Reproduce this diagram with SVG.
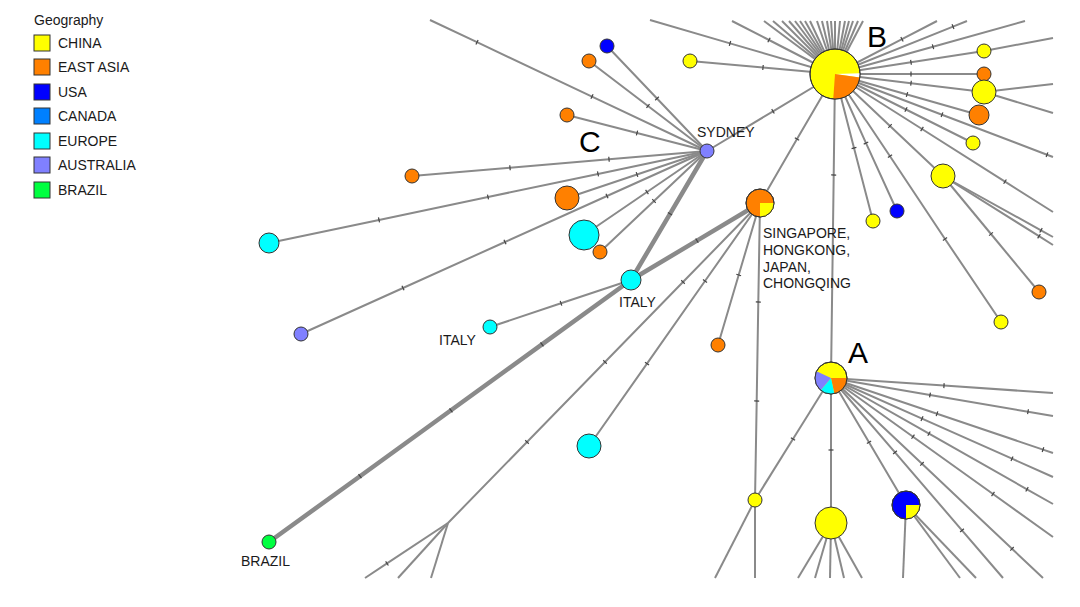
<svg xmlns="http://www.w3.org/2000/svg" width="1080" height="607" viewBox="0 0 1080 607">
<defs>
<marker id="tk" viewBox="-3 -3 6 6" markerWidth="6" markerHeight="6" markerUnits="userSpaceOnUse" orient="auto" overflow="visible"><path d="M0,-2.5V2.5" stroke="#444" stroke-width="1.2"/></marker>
<style>
.e{fill:none;stroke:#8a8a8a;stroke-width:2;marker-mid:url(#tk)}
.t{stroke-width:4.5}
.n{stroke:#333;stroke-width:1}
.sw{stroke:#333;stroke-width:1}
.lbl{font-family:"Liberation Sans",Arial,sans-serif;font-size:14px;fill:#1a1a1a}
.big{font-family:"Liberation Sans",Arial,sans-serif;font-size:30px;fill:#000}
.y{fill:#ffff00}.o{fill:#ff8000}.b{fill:#0000ff}.ca{fill:#0080ff}.c{fill:#00ffff}.p{fill:#8080ff}.g{fill:#00ff40}
</style>
</defs>
<rect width="1080" height="607" fill="#fff"/>
<g id="legend">
<text class="lbl" x="34" y="25">Geography</text>
<rect class="sw y" x="34" y="35" width="16" height="16"/><text class="lbl" x="58" y="48">CHINA</text>
<rect class="sw o" x="34" y="59" width="16" height="16"/><text class="lbl" x="58" y="72">EAST ASIA</text>
<rect class="sw b" x="34" y="84" width="16" height="16"/><text class="lbl" x="58" y="97">USA</text>
<rect class="sw ca" x="34" y="108" width="16" height="16"/><text class="lbl" x="58" y="121">CANADA</text>
<rect class="sw c" x="34" y="133" width="16" height="16"/><text class="lbl" x="58" y="146">EUROPE</text>
<rect class="sw p" x="34" y="157" width="16" height="16"/><text class="lbl" x="58" y="170">AUSTRALIA</text>
<rect class="sw g" x="34" y="182" width="16" height="16"/><text class="lbl" x="58" y="195">BRAZIL</text>
</g>
<g id="connectors">
<!-- B fan up -->
<path class="e" d="M835,74L764,21"/><path class="e" d="M835,74L773,21"/><path class="e" d="M835,74L782,21"/><path class="e" d="M835,74L789,21"/><path class="e" d="M835,74L795,21"/><path class="e" d="M835,74L800,21"/><path class="e" d="M835,74L805,21"/><path class="e" d="M835,74L810,21"/><path class="e" d="M835,74L817,21"/><path class="e" d="M835,74L822,21"/><path class="e" d="M835,74L827,21"/><path class="e" d="M835,74L831,21"/><path class="e" d="M835,74L835,21"/><path class="e" d="M835,74L840,21"/><path class="e" d="M835,74L845,21"/><path class="e" d="M835,74L849,21"/><path class="e" d="M835,74L853,21"/><path class="e" d="M835,74L858,21"/><path class="e" d="M835,74L863,21"/>
<path class="e" d="M835,74L769,40L732,21"/>
<path class="e" d="M835,74L730,43.4L650,20"/>
<path class="e" d="M835,74L763,67.5L690,61"/>
<!-- B right -->
<path class="e" d="M835,74L902,39.2L937,21"/>
<path class="e" d="M835,74L953,26.6L967,21"/>
<path class="e" d="M835,74L933,46.7L1025,21"/>
<path class="e" d="M835,74L911,62.3L984,51"/><path class="e" d="M984,51L1053,38"/>
<path class="e" d="M835,74L911,74L984,74"/>
<path class="e" d="M835,74L911,83.2L984,92"/><path class="e" d="M984,92L1053,84"/><path class="e" d="M984,92L1053,113"/>
<path class="e" d="M835,74L907,94.5L979,115"/>
<path class="e" d="M835,74L906,109.5L973,143"/>
<path class="e" d="M835,74L942,114.7L1047,154.7L1053,157"/>
<path class="e" d="M835,74L890,126L943,176"/>
<path class="e" d="M835,74L922,129L1005,181.6L1053,212"/>
<path class="e" d="M835,74L890,156.2L945,239L1001,322"/>
<path class="e" d="M835,74L866,143.1L897,211"/>
<path class="e" d="M835,74L854,148L873,221"/>
<path class="e" d="M943,176L991,234L1039,292"/>
<path class="e" d="M943,176L1041,230.3L1053,237"/>
<path class="e" d="M943,176L1039,236.2L1053,245"/>
<path class="e" d="M835,74L773,111.3L707,151"/>
<path class="e" d="M835,74L797,139L760,203"/>
<path class="e" d="M835,74L833.7,175L831,378"/>
<!-- Sydney -->
<path class="e" d="M707,151L657,98.5L607,46"/>
<path class="e" d="M707,151L648,106L589,61"/>
<path class="e" d="M707,151L592,96.6L477,42.2L430,20"/>
<path class="e" d="M707,151L637,133L567,115"/>
<path class="e" d="M707,151L609,159.3L510,167.7L412,176"/>
<path class="e" d="M707,151L598,173.9L488,197L379,219.9L269,243"/>
<path class="e" d="M707,151L637,174.5L567,198"/>
<path class="e" d="M707,151L607,196L505,242L403,288L301,334"/>
<path class="e" d="M707,151L647,192L584,235"/>
<path class="e" d="M707,151L654,201L600,252"/>
<path class="e t" d="M707,151L670,213.8L631,280"/>
<!-- Singapore -->
<path class="e t" d="M760,203L697,240.6L631,280"/>
<path class="e" d="M760,203L683,282L605,362L527,442L448,523"/>
<path class="e" d="M760,203L705,281L647,363.6L589,446"/>
<path class="e" d="M760,203L738.7,275L718,345"/>
<path class="e" d="M760,203L758.3,302L756.7,401L755,500"/>
<path class="e" d="M448,523L387,563.4L365,578"/><path class="e" d="M448,523L398,578"/><path class="e" d="M448,523L431,578"/>
<path class="e" d="M755,500L755,578"/><path class="e" d="M755,500L715,578"/>
<!-- Italy -->
<path class="e t" d="M631,280L542,344.4L451,410.3L360,476.2L269,542"/>
<path class="e" d="M631,280L561,303.3L490,327"/>
<!-- A -->
<path class="e" d="M831,378L793,439L755,500"/>
<path class="e" d="M831,378L831,450L831,523"/>
<path class="e" d="M831,378L869,442.3L906,505"/>
<path class="e" d="M831,378L895,452.4L962,530.3L1003,578"/>
<path class="e" d="M831,378L922,463.8L1012,548.8L1043,578"/>
<path class="e" d="M831,378L913,436.7L993,494L1053,537"/>
<path class="e" d="M831,378L929,433.6L1027,489.3L1053,504"/>
<path class="e" d="M831,378L922,418.6L1012,458.7L1053,477"/>
<path class="e" d="M831,378L937,413.8L1043,449.6L1053,453"/>
<path class="e" d="M831,378L930,395L1028,411.7L1053,416"/>
<path class="e" d="M831,378L944,385.6L1053,393"/>
<path class="e" d="M906,505L903,578"/><path class="e" d="M906,505L960,578"/><path class="e" d="M906,505L976,578"/>
<path class="e" d="M831,523L798,578"/><path class="e" d="M831,523L815,578"/><path class="e" d="M831,523L830,578"/><path class="e" d="M831,523L844,578"/><path class="e" d="M831,523L862,578"/>
</g>
<g id="nodeB">
<circle class="n y" cx="835" cy="74" r="25"/>
<path d="M835,74L859.98,73.13A25,25 0 0 1 859.76,77.48Z" fill="#fff"/>
<path d="M835,74L859.76,77.48A25,25 0 0 1 833.26,98.94Z" class="o"/>
<circle cx="835" cy="74" r="25" fill="none" class="n"/>
<text class="big" x="867" y="47">B</text>
</g>
<g id="nodeA">
<circle class="n y" cx="831" cy="378" r="16"/>
<path class="o" d="M831,378L847,378A16,16 0 0 1 834.33,393.65Z"/>
<path class="c" d="M831,378L834.33,393.65A16,16 0 0 1 820.72,390.26Z"/>
<path class="p" d="M831,378L820.72,390.26A16,16 0 0 1 816.5,371.24Z"/>
<circle cx="831" cy="378" r="16" fill="none" class="n"/>
<text class="big" x="848" y="363">A</text>
</g>
<g id="nodeC"><text class="big" x="579" y="152">C</text></g>
<g id="nodeSG">
<circle class="n o" cx="760" cy="203" r="14"/>
<path class="y" d="M760,203L774,203A14,14 0 0 1 760,217Z"/>
<circle cx="760" cy="203" r="14" fill="none" class="n"/>
<text class="lbl" x="763" y="238">SINGAPORE,</text>
<text class="lbl" x="763" y="255">HONGKONG,</text>
<text class="lbl" x="763" y="272">JAPAN,</text>
<text class="lbl" x="763" y="288">CHONGQING</text>
</g>
<g id="nodeSydney"><circle class="n p" cx="707" cy="151" r="7"/><text class="lbl" x="697" y="137">SYDNEY</text></g>
<g id="nodeItaly1"><circle class="n c" cx="631" cy="280" r="10"/><text class="lbl" x="619" y="307">ITALY</text></g>
<g id="nodeItaly2"><circle class="n c" cx="490" cy="327" r="7"/><text class="lbl" x="439" y="345">ITALY</text></g>
<g id="nodeBrazil"><circle class="n g" cx="269" cy="542" r="7"/><text class="lbl" x="241" y="566">BRAZIL</text></g>
<g id="n1"><circle class="n b" cx="607" cy="46" r="7"/></g>
<g id="n2"><circle class="n o" cx="589" cy="61" r="7"/></g>
<g id="n3"><circle class="n o" cx="567" cy="115" r="7"/></g>
<g id="n4"><circle class="n o" cx="412" cy="176" r="7"/></g>
<g id="n5"><circle class="n o" cx="567" cy="198" r="12"/></g>
<g id="n6"><circle class="n c" cx="269" cy="243" r="10"/></g>
<g id="n7"><circle class="n c" cx="584" cy="235" r="15"/></g>
<g id="n8"><circle class="n o" cx="600" cy="252" r="7"/></g>
<g id="n9"><circle class="n p" cx="301" cy="334" r="7"/></g>
<g id="n10"><circle class="n c" cx="589" cy="446" r="12"/></g>
<g id="n11"><circle class="n o" cx="718" cy="345" r="7"/></g>
<g id="n12"><circle class="n y" cx="690" cy="61" r="7"/></g>
<g id="n13"><circle class="n y" cx="984" cy="51" r="7"/></g>
<g id="n14"><circle class="n o" cx="984" cy="74" r="7"/></g>
<g id="n15"><circle class="n y" cx="984" cy="92" r="12"/></g>
<g id="n16"><circle class="n o" cx="979" cy="115" r="10"/></g>
<g id="n17"><circle class="n y" cx="973" cy="143" r="7"/></g>
<g id="n18"><circle class="n y" cx="943" cy="176" r="12"/></g>
<g id="n19"><circle class="n y" cx="873" cy="221" r="7"/></g>
<g id="n20"><circle class="n b" cx="897" cy="211" r="7"/></g>
<g id="n21"><circle class="n o" cx="1039" cy="292" r="7"/></g>
<g id="n22"><circle class="n y" cx="1001" cy="322" r="7"/></g>
<g id="n23"><circle class="n y" cx="755" cy="500" r="7"/></g>
<g id="n24"><circle class="n y" cx="831" cy="523" r="16"/></g>
<g id="n25">
<circle class="n b" cx="906" cy="505" r="14"/>
<path class="y" d="M906,505L920,505A14,14 0 0 1 906,519Z"/>
<circle cx="906" cy="505" r="14" fill="none" class="n"/>
</g>
</svg>
